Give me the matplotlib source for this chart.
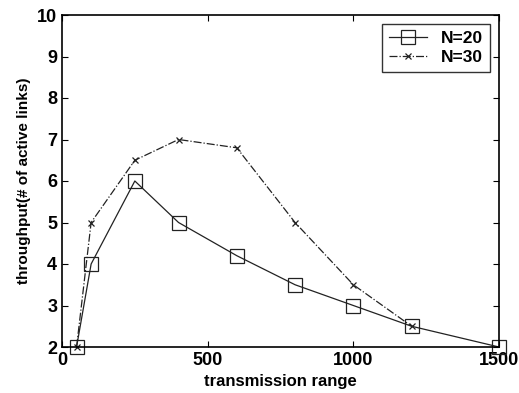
import matplotlib
matplotlib.use("Agg")
import matplotlib.pyplot as plt

plt.rcParams['font.family'] = ['Liberation Sans', 'DejaVu Sans']

x20 = [50, 100, 250, 400, 600, 800, 1000, 1200, 1500]
y20 = [2, 4, 6, 5, 4.2, 3.5, 3, 2.5, 2]
x30 = [50, 100, 250, 400, 600, 800, 1000, 1200]
y30 = [2, 5, 6.5, 7, 6.8, 5, 3.5, 2.5]

fig = plt.figure(figsize=(5.19, 3.93), dpi=100)
ax = fig.add_axes([62/519, 1 - 347/393, 437/519, 332/393])

ax.plot(x20, y20, color='#222222', lw=0.9, ls='-', marker='s', ms=10,
        mfc='none', mec='#222222', mew=0.9, label='N=20', clip_on=False)
ax.plot(x30, y30, color='#222222', lw=0.9, ls='-.', marker='x', ms=5,
        mec='#222222', mew=0.9, label='N=30', clip_on=False)

ax.set_xlim(0, 1500)
ax.set_ylim(2, 10)
ax.set_xticks([0, 500, 1000, 1500])
ax.set_yticks(range(2, 11))
ax.tick_params(direction='in', top=True, right=True, labelsize=13, length=4, width=0.8)
for lbl in ax.get_xticklabels() + ax.get_yticklabels():
    lbl.set_fontweight('bold')
for s in ax.spines.values():
    s.set_linewidth(1.2)

ax.set_xlabel('transmission range', fontsize=12, fontweight='bold')
ax.set_ylabel('throughput(# of active links)', fontsize=11, fontweight='bold')

leg = ax.legend(loc='upper right', prop={'weight': 'bold', 'size': 12.5},
                fancybox=False, edgecolor='black', handlelength=2.2,
                borderaxespad=0.5, labelspacing=0.25)
leg.get_frame().set_linewidth(1.0)

fig.savefig('out.png', dpi=100)
